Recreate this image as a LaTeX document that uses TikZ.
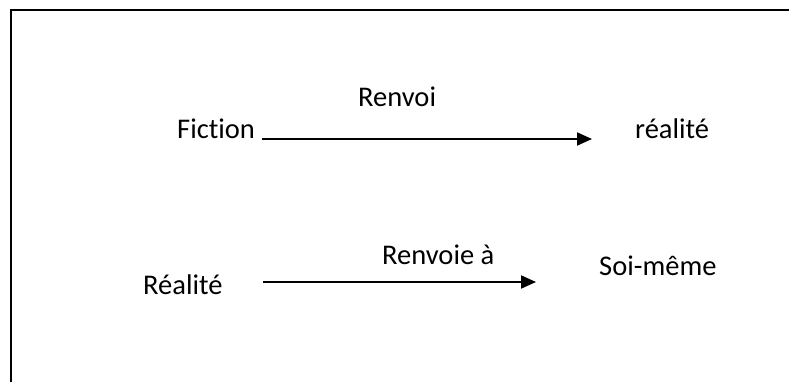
\documentclass[tikz,border=0pt]{standalone}
\usepackage{fontspec}
\setmainfont[Ligatures={NoCommon}]{Carlito}
\usetikzlibrary{arrows.meta}
\begin{document}
\begin{tikzpicture}[x=1pt,y=-1pt,
  lbl/.style={anchor=base west,inner sep=0pt,font=\fontsize{28.5}{34}\selectfont},
  conn/.style={line width=2pt,-{Triangle[length=15pt,width=13pt]}},
  frame/.style={line width=2pt,line cap=rect}]
\useasboundingbox (0,0) rectangle (789,382);
\coordinate (fl) at (11,382);
\coordinate (fc) at (11,10);
\coordinate (fr) at (789,10);
\draw[frame] (fl) -- (fc) -- (fr);
\node[lbl] (fiction) at (177,139) {Fiction};
\node[lbl] (renvoi) at (358,107) {Renvoi};
\node[lbl] (realite1) at (635,139) {réalité};
\node[lbl] (realite2) at (143,294) {Réalité};
\node[lbl] (renvoiea) at (382,264) {Renvoie à};
\node[lbl] (soimeme) at (599,275) {Soi-même};
\coordinate (a1s) at (262,139);
\coordinate (a1e) at (592,139);
\coordinate (a2s) at (263,282);
\coordinate (a2e) at (536,282);
\draw[conn] (a1s) -- (a1e);
\draw[conn] (a2s) -- (a2e);
\end{tikzpicture}
\end{document}
